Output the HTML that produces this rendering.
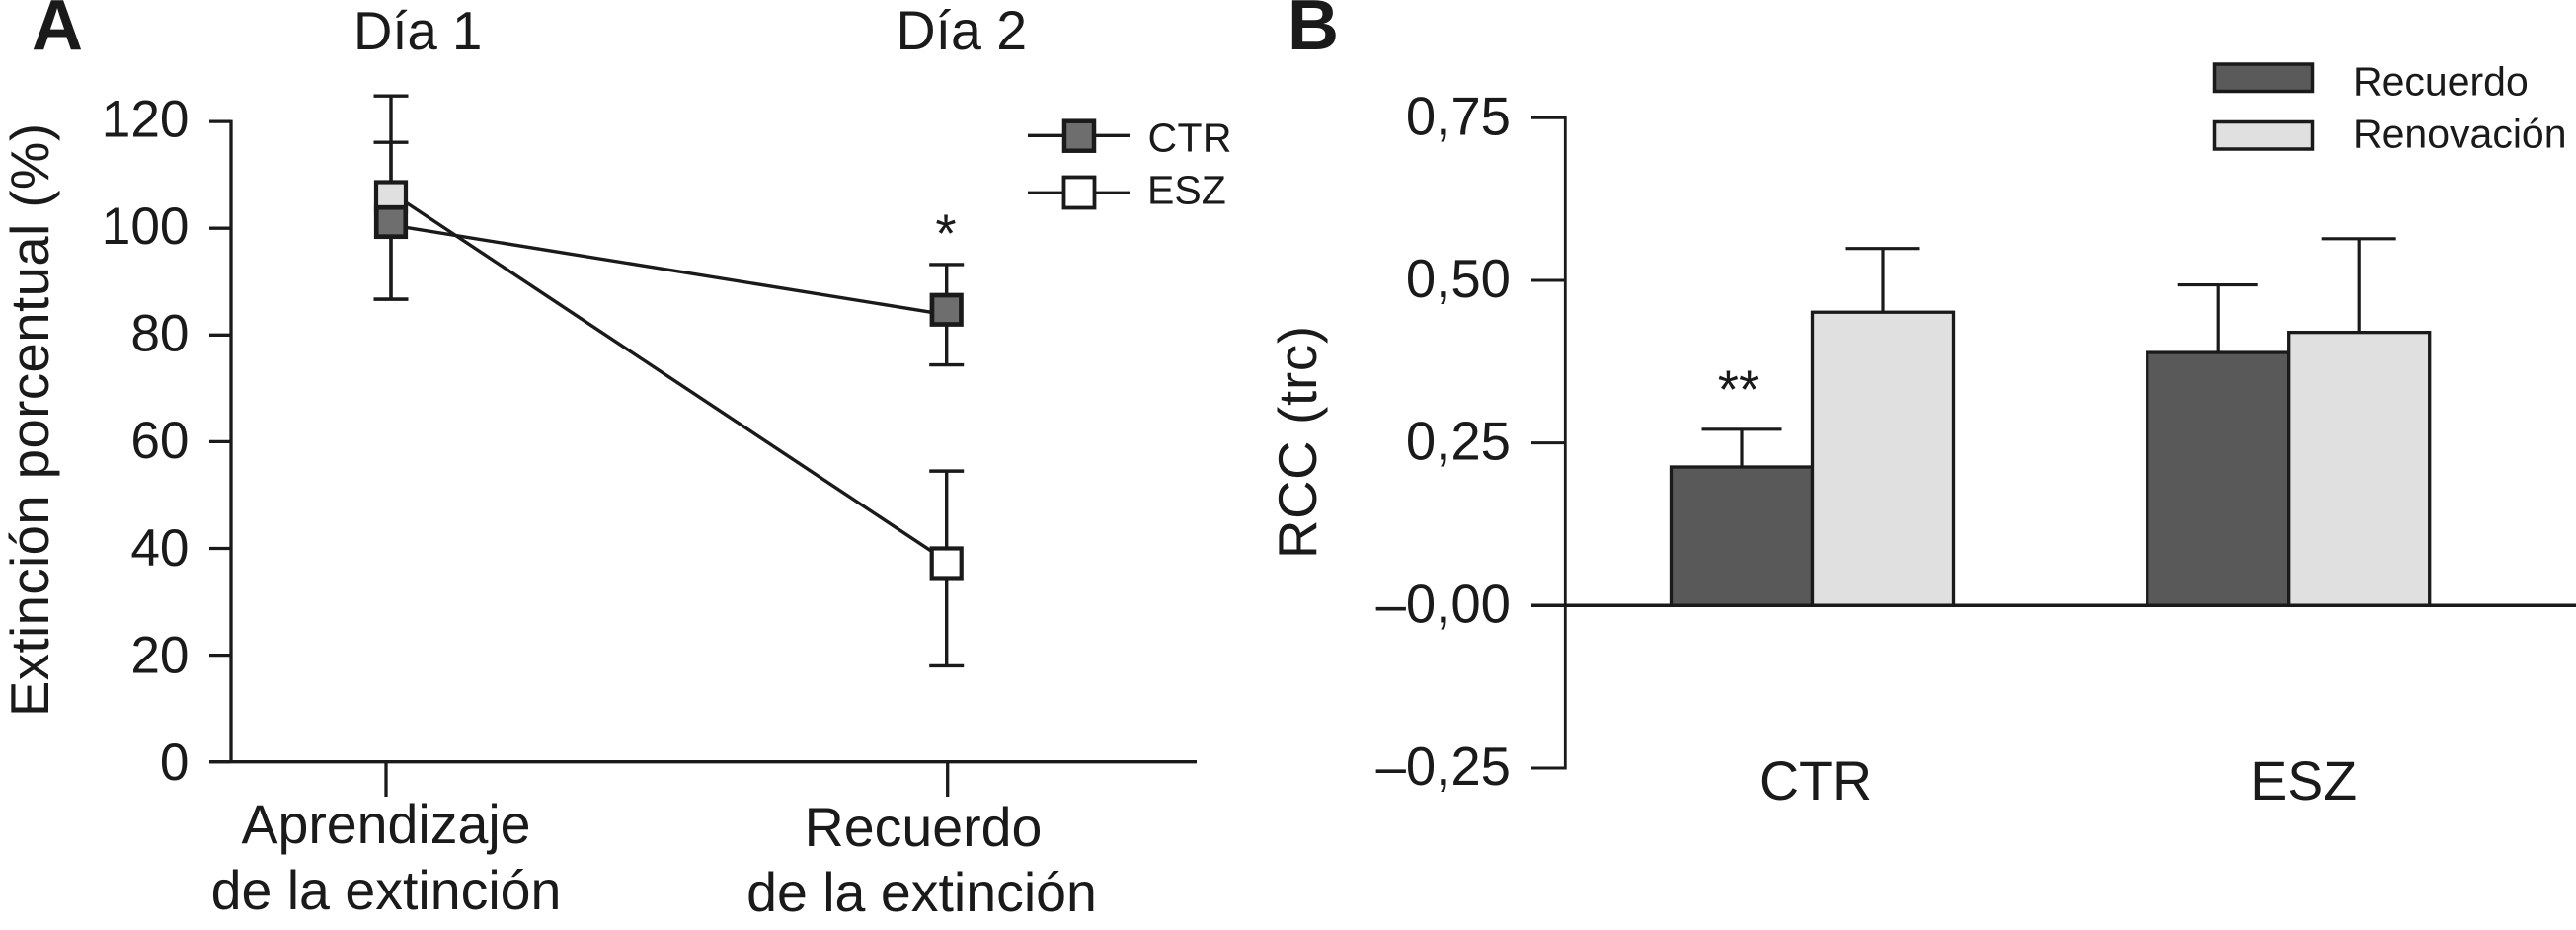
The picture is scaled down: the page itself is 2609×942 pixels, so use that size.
<!DOCTYPE html>
<html lang="es">
<head>
<meta charset="utf-8">
<title>Extinción porcentual y RCC</title>
<style>
html,body{margin:0;padding:0;background:#fff;width:2609px;height:942px;overflow:hidden}
svg{display:block}
text{font-family:"Liberation Sans",Arial,sans-serif;fill:#1a1a1a}
.t54{font-size:54.5px}
.t55{font-size:55.5px}
.t53{font-size:53.2px}
.t41{font-size:41px}
.pl{font-size:72px;font-weight:bold}
</style>
</head>
<body>
<svg id="fig" xmlns="http://www.w3.org/2000/svg" width="2609" height="942" viewBox="0 0 2609 942">
  <g id="panelA">
    <text class="pl" x="32" y="50">A</text>
    <text class="t54" x="358" y="50">Día 1</text>
    <text class="t55" x="907.5" y="50">Día 2</text>
    <text class="t54" transform="translate(49,726) rotate(-90)" textLength="601">Extinción porcentual (%)</text>
    <text class="t55" x="391" y="854" text-anchor="middle">Aprendizaje</text>
    <text class="t55" x="391" y="921" text-anchor="middle">de la extinción</text>
    <text class="t55" x="935" y="857" text-anchor="middle">Recuerdo</text>
    <text class="t55" x="933.5" y="923" text-anchor="middle">de la extinción</text>
    <text class="t54" x="958" y="255" text-anchor="middle">*</text>
    <g>
      <g>
        <line x1="1041" y1="137.3" x2="1144" y2="137.3" stroke="#1a1a1a" stroke-width="3.3"/>
        <rect x="1078" y="122.7" width="30" height="30" fill="#6e6e6e" stroke="#1a1a1a" stroke-width="4.5"/>
        <text class="t41" x="1162.5" y="153.3" textLength="85">CTR</text>
      </g>
      <g>
        <line x1="1041" y1="195.3" x2="1144" y2="195.3" stroke="#1a1a1a" stroke-width="3.3"/>
        <rect x="1077.5" y="179.5" width="31" height="31" fill="#fff" stroke="#1a1a1a" stroke-width="3.8"/>
        <text class="t41" x="1162" y="206.7">ESZ</text>
      </g>
    </g>
  </g>
  <g id="panelB">
    <text class="pl" x="1304" y="50">B</text>
    <text class="t54" transform="translate(1333,566) rotate(-90)" textLength="236">RCC (trc)</text>
    <text class="t54" x="1761" y="413" text-anchor="middle">**</text>
    <g>
      <g>
        <rect x="2242.5" y="65" width="100" height="27.5" fill="#5a5a5a" stroke="#1a1a1a" stroke-width="3.5"/>
        <text class="t41" x="2383" y="96.7">Recuerdo</text>
      </g>
      <g>
        <rect x="2242.5" y="123.5" width="100" height="27.5" fill="#e0e0e0" stroke="#1a1a1a" stroke-width="3.5"/>
        <text class="t41" x="2383" y="149.3">Renovación</text>
      </g>
    </g>
  </g>
</svg>
<script>
// Panel A data
const lineCategories = ['Aprendizaje de la extinción', 'Recuerdo de la extinción'];
const lineTickValues = [0, 20, 40, 60, 80, 100, 120];
const lineTickLabels = ['0', '20', '40', '60', '80', '100', '120'];
const ctrValues = [100.6, 83.8];
const ctrErrUp = [15.5, 9.4];
const ctrErrDown = [13.9, 9.4];
const eszValues = [106.7, 37.6];
const eszErrUp = [18.1, 16.9];
const eszErrDown = [20.0, 19.6];

// Panel B data
const barCategories = ['CTR', 'ESZ'];
const barTickValues = [-0.25, 0, 0.25, 0.5, 0.75];
const barTickLabels = ['–0,25', '–0,00', '0,25', '0,50', '0,75'];
const recuerdoValues = [0.213, 0.389];
const recuerdoErr = [0.058, 0.104];
const renovacionValues = [0.451, 0.42];
const renovacionErr = [0.098, 0.144];

const NS = 'http://www.w3.org/2000/svg';
const INK = '#1a1a1a';
const panelA = document.getElementById('panelA');
const panelB = document.getElementById('panelB');

function mkLine(parent, x1, y1, x2, y2, sw, name) {
  const el = document.createElementNS(NS, 'line');
  el.setAttribute('x1', x1);
  el.setAttribute('y1', y1);
  el.setAttribute('x2', x2);
  el.setAttribute('y2', y2);
  el.setAttribute('stroke', INK);
  el.setAttribute('stroke-width', sw);
  
  
  parent.appendChild(el);
  return el;
}
function mkRect(parent, x, y, w, h, fill, sw, name) {
  const el = document.createElementNS(NS, 'rect');
  el.setAttribute('x', x);
  el.setAttribute('y', y);
  el.setAttribute('width', w);
  el.setAttribute('height', h);
  el.setAttribute('fill', fill);
  el.setAttribute('stroke', INK);
  el.setAttribute('stroke-width', sw);
  
  
  parent.appendChild(el);
  return el;
}
function mkText(parent, x, y, str, anchor, cls, name) {
  const el = document.createElementNS(NS, 'text');
  el.setAttribute('x', x);
  el.setAttribute('y', y);
  el.setAttribute('text-anchor', anchor);
  el.setAttribute('class', cls);
  
  
  el.textContent = str;
  parent.appendChild(el);
  return el;
}

/* ---------- Panel A ---------- */
const yA = v => 771.7 - v * 5.405;
const yALabel = v => 790 - v * 5.43;
const xA = i => 396 + i * 562.7;

mkLine(panelA, 234, yA(120) - 1.5, 234, yA(0), 3.3, 'y-axis-a');
mkLine(panelA, 212, yA(0), 1212, yA(0), 3.3, 'x-axis-a');
lineTickValues.forEach((v, i) => {
  mkLine(panelA, 212, yA(v), 234, yA(v), 3.3, 'y-tick-a-' + lineTickLabels[i]);
  mkText(panelA, 191.5, yALabel(v), lineTickLabels[i], 'end', 't53', 'y-tick-label-a-' + lineTickLabels[i]);
});
lineCategories.forEach((c, i) => {
  const tx = xA(i) + (i === 0 ? -5 : 1);
  mkLine(panelA, tx, yA(0), tx, 807, 3.3, 'x-tick-a-' + (i + 1));
});

function drawErr(parent, x, top, bottom, capW, sw, name) {
  mkLine(parent, x, top, x, bottom, sw, name + '-stem');
  mkLine(parent, x - capW / 2, top, x + capW / 2, top, sw, name + '-cap-upper');
  mkLine(parent, x - capW / 2, bottom, x + capW / 2, bottom, sw, name + '-cap-lower');
}
function lineSeries(vals) {
  const el = document.createElementNS(NS, 'polyline');
  el.setAttribute('points', vals.map((v, i) => xA(i) + ',' + yA(v)).join(' '));
  el.setAttribute('fill', 'none');
  el.setAttribute('stroke', INK);
  el.setAttribute('stroke-width', '3.4');
  return el;
}
// error bars
eszValues.forEach((v, i) => {
  drawErr(panelA, xA(i), yA(v + eszErrUp[i]), yA(v - eszErrDown[i]), 35, 3.4, 'error-bar-esz-' + (i + 1));
});
ctrValues.forEach((v, i) => {
  drawErr(panelA, xA(i), yA(v + ctrErrUp[i]), yA(v - ctrErrDown[i]), 35, 3.4, 'error-bar-ctr-' + (i + 1));
});
// series lines
const eszLine = lineSeries(eszValues);


panelA.appendChild(eszLine);
const ctrLine = lineSeries(ctrValues);


panelA.appendChild(ctrLine);
// markers (drawn with the small vertical shift seen in the figure)
const eszFills = ['#e0e0e0', '#ffffff'];
const eszShift = [4.5, 2];
const ctrShift = [-3, -5];
eszValues.forEach((v, i) => {
  mkRect(panelA, xA(i) - 15, yA(v) + eszShift[i] - 15, 30, 30, eszFills[i], 4.2, 'marker-esz-' + (i + 1));
});
ctrValues.forEach((v, i) => {
  mkRect(panelA, xA(i) - 14.75, yA(v) + ctrShift[i] - 14.75, 29.5, 29.5, '#6e6e6e', 4.7, 'marker-ctr-' + (i + 1));
});

/* ---------- Panel B ---------- */
const yB = v => 613.3 - v * 658.7;
const xB = i => 1835.5 + i * 482.2;
const barW = 143;

mkLine(panelB, 1585.3, yB(0.75) - 1.5, 1585.3, yB(-0.25) + 1.5, 2.8, 'y-axis-b');
barTickValues.forEach((v, i) => {
  mkLine(panelB, 1551, yB(v), 1585.3, yB(v), 3, 'y-tick-b-' + barTickLabels[i]);
  mkText(panelB, 1530, yB(v) + 17, barTickLabels[i], 'end', 't54', 'y-tick-label-b-' + barTickLabels[i]);
});
barCategories.forEach((c, i) => {
  const lx = xB(i) + (i === 0 ? 3.5 : 15.5);
  mkText(panelB, lx, 810, c, 'middle', 't55', 'x-label-' + c.toLowerCase());
});
barCategories.forEach((c, i) => {
  const cx = xB(i);
  const rx = cx - barW / 2;
  const nx = cx + barW / 2;
  const rv = recuerdoValues[i];
  const nv = renovacionValues[i];
  mkLine(panelB, rx, yB(rv), rx, yB(rv + recuerdoErr[i]), 3.2, 'error-stem-recuerdo-' + c.toLowerCase());
  mkLine(panelB, rx - 40.5, yB(rv + recuerdoErr[i]), rx + 40.5, yB(rv + recuerdoErr[i]), 3.2, 'error-cap-recuerdo-' + c.toLowerCase());
  mkLine(panelB, nx, yB(nv), nx, yB(nv + renovacionErr[i]), 3.2, 'error-stem-renovacion-' + c.toLowerCase());
  mkLine(panelB, nx - 37.5, yB(nv + renovacionErr[i]), nx + 37.5, yB(nv + renovacionErr[i]), 3.2, 'error-cap-renovacion-' + c.toLowerCase());
  mkRect(panelB, cx - barW, yB(rv), barW, yB(0) - yB(rv), '#595959', 3.3, 'bar-recuerdo-' + c.toLowerCase());
  mkRect(panelB, cx, yB(nv), barW, yB(0) - yB(nv), '#e0e0e0', 3.3, 'bar-renovacion-' + c.toLowerCase());
});
mkLine(panelB, 1551, yB(0), 2609, yB(0), 3.5, 'zero-line-b');
</script>
</body>
</html>
